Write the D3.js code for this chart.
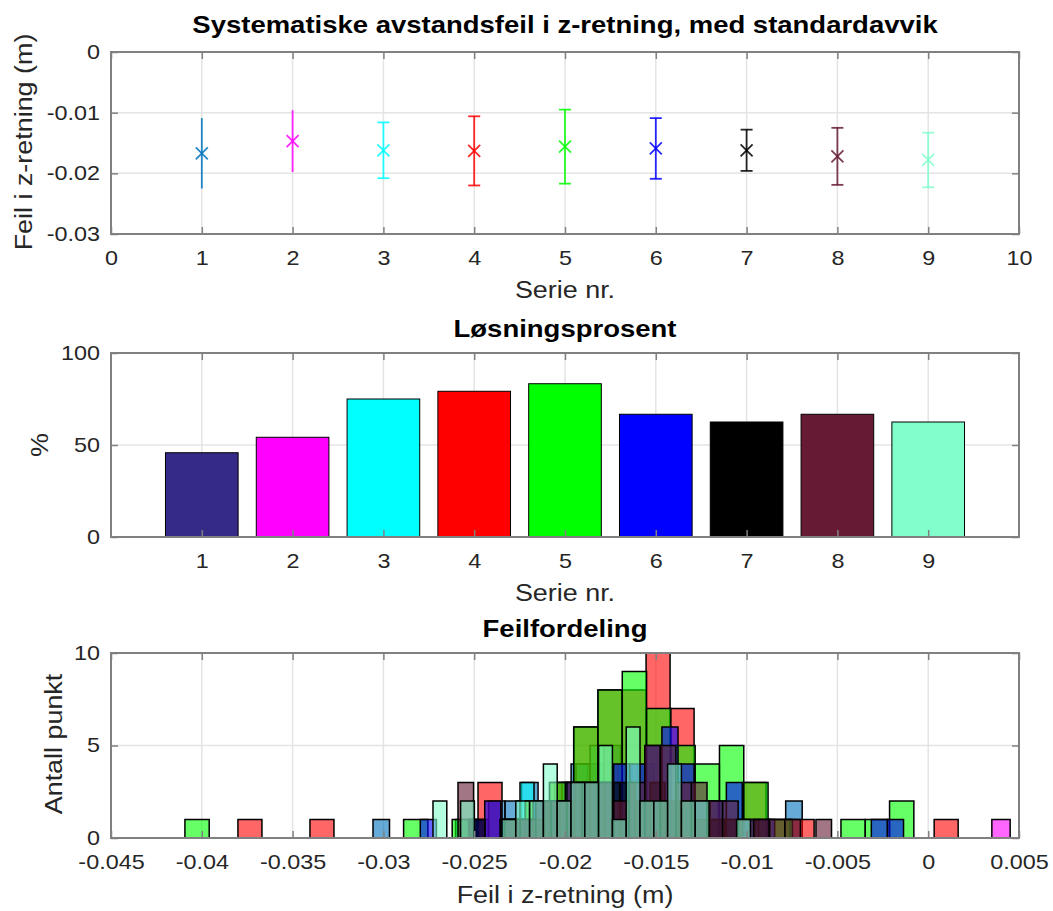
<!DOCTYPE html>
<html>
<head>
<meta charset="utf-8">
<script src="https://cdn.jsdelivr.net/npm/d3@7"></script>
<style>
  body { margin: 0; background: #fff; }
  svg { display: block; }
</style>
</head>
<body>
<svg id="chart" width="1053" height="911"></svg>
<script>
// ---- data ----
var series = [1, 2, 3, 4, 5, 6, 7, 8, 9];

// top panel: mean error and standard deviation per series (m)
var errMean = [-0.0167, -0.0147, -0.0162, -0.0163, -0.0156, -0.0159, -0.0162, -0.0172, -0.0178];
var errStd  = [0.0058, 0.0051, 0.0046, 0.0057, 0.0061, 0.0050, 0.0034, 0.0047, 0.0045];
var errColors = ["#0072bd", "#ff00ff", "#00ffff", "#ff0000", "#00ff00", "#0000ff", "#000000", "#661a33", "#80ffcc"];
var errXTicks = [0, 1, 2, 3, 4, 5, 6, 7, 8, 9, 10];
var errYTicks = [0, -0.01, -0.02, -0.03];

// middle panel: solution percentage
var solvePct = [45.8, 54.2, 75.0, 79.2, 83.3, 66.7, 62.5, 66.7, 62.5];
var barColors = ["#352a87", "#ff00ff", "#00ffff", "#ff0000", "#00ff00", "#0000ff", "#000000", "#661a33", "#80ffcc"];
var pctTicks = [0, 50, 100];

// bottom panel: one histogram per series (first bin edge, bin width, counts)
var histColors = ["#0072bd", "#ff00ff", "#00ffff", "#ff0000", "#00ff00", "#0000ff", "#000000", "#661a33", "#80ffcc"];
var histStart = [-0.030573, -0.023711, -0.022478, -0.03801, -0.04093, -0.027968, -0.025231, -0.025892, -0.027269];
var histWidth = [0.000909, 0.001008, 0.000771, 0.001322, 0.001338, 0.000887, 0.000826, 0.000857, 0.00076];
var histCounts = [
  [1,0,0,0,0,1,1,2,2,3,2,3,4,4,5,3,4,3,2,2,1,1,0,0,0,2],
  [0,1,1,2,2,3,3,2,3,2,1,1,1,0,0,0,0,0,0,0,0,0,0,0,0,0,0,1],
  [3,1,2,3,4,5,3,4,2,2,2,1,1,0,0,0,1],
  [1,0,0,1,0,0,0,0,0,0,3,1,2,3,6,8,8,10,7,2,1,3,1,1,0,0,0,0,0,1],
  [1,0,0,0,0,0,0,0,0,1,0,1,0,1,2,3,6,8,9,7,5,4,5,3,1,0,0,1,1,2],
  [1,0,0,1,2,1,1,2,2,3,3,3,4,4,5,6,4,2,2,3,1,1,0,0,0,0,0,0,1,1],
  [1,0,1,1,1,2,2,3,3,3,3,2,3,2,2,1,1,1,0,1],
  [3,0,0,1,1,2,2,3,3,3,2,3,5,5,3,3,2,2,1,1,1,1,0,1],
  [2,0,2,0,0,1,2,2,4,2,3,3,5,1,6,2,2,4,2,2,0,0,1]
];
var histXTicks = [-0.045, -0.04, -0.035, -0.03, -0.025, -0.02, -0.015, -0.01, -0.005, 0, 0.005];
var histYTicks = [0, 5, 10];

// ---- layout ----
var FONT = '"Liberation Sans", Arial, Helvetica, sans-serif';
var SX = 1.17;   // the original text is a bit wider than Arial
var left = 111, right = 1019;

var svg = d3.select("#chart");

function label(x, y, str, size, opts) {
  opts = opts || {};
  var t = "translate(" + x + "," + y + ")" + (opts.rotate ? " rotate(" + opts.rotate + ")" : "") + " scale(" + SX + ",1)";
  svg.append("g").attr("transform", t)
    .append("text")
      .attr("text-anchor", "middle")
      .attr("font-family", FONT)
      .attr("font-size", size)
      .attr("font-weight", opts.bold ? "bold" : "normal")
      .attr("fill", opts.bold ? "#000" : "#262626")
      .text(str);
}

function grid(x, y, xt, yt) {
  var g = svg.append("g").attr("class", "grid");
  var yr = y.range(), xr = x.range();
  g.selectAll("line.gx").data(xt).join("line").attr("class", "gx")
    .attr("x1", function(d) { return x(d); }).attr("x2", function(d) { return x(d); })
    .attr("y1", yr[0]).attr("y2", yr[1]);
  g.selectAll("line.gy").data(yt).join("line").attr("class", "gy")
    .attr("y1", function(d) { return y(d); }).attr("y2", function(d) { return y(d); })
    .attr("x1", xr[0]).attr("x2", xr[1]);
  g.selectAll("line").attr("stroke", "#e4e4e4").attr("stroke-width", 1.5);
}

function styleAxis(ax, labels) {
  ax.select(".domain").remove();
  ax.attr("font-family", FONT).attr("font-size", 20);
  ax.selectAll("line").attr("stroke", "#808080").attr("stroke-width", 1.5);
  if (labels) ax.selectAll("text").attr("fill", "#262626").attr("transform", "scale(" + SX + ",1)");
  else ax.selectAll("text").remove();
}

function frame(x, y, xt, yt) {
  var b = y.range()[0], t = y.range()[1];
  var fmt = function(d) { return String(d); };
  styleAxis(svg.append("g").attr("transform", "translate(0," + b + ")")
    .call(d3.axisBottom(x).tickValues(xt).tickFormat(fmt).tickSizeInner(-7).tickSizeOuter(0).tickPadding(17)), true);
  styleAxis(svg.append("g").attr("transform", "translate(0," + t + ")")
    .call(d3.axisTop(x).tickValues(xt).tickSizeInner(-7).tickSizeOuter(0)), false);
  styleAxis(svg.append("g").attr("transform", "translate(" + left + ",0)")
    .call(d3.axisLeft(y).tickValues(yt).tickFormat(fmt).tickSizeInner(-7).tickSizeOuter(0).tickPadding(9.4)), true);
  styleAxis(svg.append("g").attr("transform", "translate(" + right + ",0)")
    .call(d3.axisRight(y).tickValues(yt).tickSizeInner(-7).tickSizeOuter(0)), false);
  svg.append("rect")
    .attr("x", left).attr("y", t).attr("width", right - left).attr("height", b - t)
    .attr("fill", "none").attr("stroke", "#808080").attr("stroke-width", 2);
}

// ---- panel 1: error bars ----
var x1 = d3.scaleLinear().domain([0, 10]).range([left, right]);
var y1 = d3.scaleLinear().domain([-0.03, 0]).range([234, 52]);

grid(x1, y1, errXTicks, errYTicks);

var eb = svg.append("g").selectAll("g").data(series).join("g")
  .attr("stroke", function(d, i) { return errColors[i]; })
  .attr("stroke-width", 1.8)
  .attr("stroke-opacity", 0.85);

eb.append("line")
  .attr("x1", function(d) { return x1(d); }).attr("x2", function(d) { return x1(d); })
  .attr("y1", function(d, i) { return y1(errMean[i] - errStd[i]); })
  .attr("y2", function(d, i) { return y1(errMean[i] + errStd[i]); });

// the first two series were drawn without caps
eb.filter(function(d, i) { return i >= 2; }).each(function(d, i0) {
  var i = d - 1, g = d3.select(this);
  [errMean[i] - errStd[i], errMean[i] + errStd[i]].forEach(function(v) {
    g.append("line").attr("x1", x1(d) - 6).attr("x2", x1(d) + 6)
      .attr("y1", y1(v)).attr("y2", y1(v));
  });
});

eb.append("path")
  .attr("d", function(d, i) {
    var cx = x1(d), cy = y1(errMean[i]), s = 6;
    return "M" + (cx - s) + "," + (cy - s) + "L" + (cx + s) + "," + (cy + s) +
           "M" + (cx - s) + "," + (cy + s) + "L" + (cx + s) + "," + (cy - s);
  });

frame(x1, y1, errXTicks, errYTicks);

label(565, 33, "Systematiske avstandsfeil i z-retning, med standardavvik", 23.5, {bold: true});
label(565, 298, "Serie nr.", 23);
label(31.7, 142, "Feil i z-retning (m)", 23, {rotate: -90});

// ---- panel 2: bars ----
var x2 = d3.scaleLinear().domain([0, 10]).range([left, right]);
var y2 = d3.scaleLinear().domain([0, 100]).range([537, 353]);

grid(x2, y2, series, [50]);

svg.append("g").selectAll("rect").data(series).join("rect")
  .attr("x", function(d) { return x2(d - 0.4); })
  .attr("width", x2(0.8) - x2(0))
  .attr("y", function(d, i) { return y2(solvePct[i]); })
  .attr("height", function(d, i) { return y2(0) - y2(solvePct[i]); })
  .attr("fill", function(d, i) { return barColors[i]; })
  .attr("stroke", "#000")
  .attr("stroke-width", 1);

frame(x2, y2, series, pctTicks);

label(565, 337, "Løsningsprosent", 23.5, {bold: true});
label(565, 601, "Serie nr.", 23);
label(48, 445, "%", 23, {rotate: -90});

// ---- panel 3: overlaid histograms ----
var x3 = d3.scaleLinear().domain([-0.045, 0.005]).range([left, right]);
var y3 = d3.scaleLinear().domain([0, 10]).range([838, 653]);

grid(x3, y3, histXTicks, [5]);

histCounts.forEach(function(counts, s) {
  var bins = counts.map(function(c, k) {
    return {x0: histStart[s] + k * histWidth[s], x1: histStart[s] + (k + 1) * histWidth[s], c: c};
  });
  svg.append("g").selectAll("path").data(bins).join("path")
    .attr("d", function(b) {
      return "M" + x3(b.x0) + "," + y3(0) + "V" + y3(b.c) + "H" + x3(b.x1) + "V" + y3(0) + "Z";
    })
    .attr("fill", histColors[s])
    .attr("fill-opacity", 0.6)
    .attr("stroke", "#000")
    .attr("stroke-width", 1.5);
});

frame(x3, y3, histXTicks, histYTicks);

label(565, 637, "Feilfordeling", 23.5, {bold: true});
label(565, 903, "Feil i z-retning (m)", 23);
label(61.7, 744, "Antall punkt", 23, {rotate: -90});
</script>
</body>
</html>
